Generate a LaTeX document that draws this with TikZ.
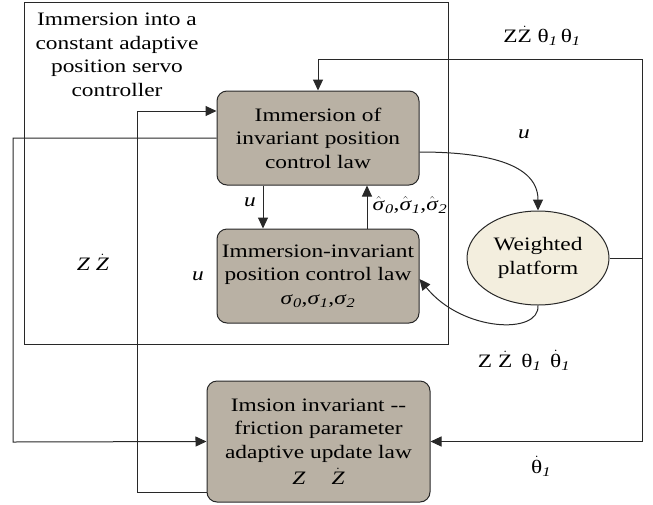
\documentclass[tikz,border=0pt]{standalone}
\usepackage{fontspec}
\setmainfont[FakeStretch=1.23]{Liberation Serif}
\usetikzlibrary{arrows.meta, positioning, shapes.geometric, calc}

\definecolor{boxfill}{RGB}{185,177,164}
\definecolor{platfill}{RGB}{243,238,222}
\definecolor{linegray}{RGB}{40,40,40}

\newcommand{\dotover}[1]{$\dot{\hbox{#1}}$}
\newcommand{\hatover}[1]{$\hat{\hbox{#1}}$}
\newcommand{\one}{\textsubscript{\textit{1}}}

\begin{document}
\begin{tikzpicture}[
    x=1pt, y=-1pt,
    every node/.style={font=\fontsize{19}{23.5}\selectfont, text=black},
    lawbox/.style={
        rectangle,
        rounded corners=10pt,
        draw=linegray,
        line width=1pt,
        fill=boxfill,
        align=center,
        inner sep=4pt,
        minimum width=202pt,
        minimum height=94pt
    },
    platbox/.style={
        ellipse,
        draw=linegray,
        line width=1pt,
        fill=platfill,
        align=center,
        inner sep=0pt,
        minimum width=142pt,
        minimum height=94pt
    },
    arrow/.style={
        line width=1pt,
        -{Triangle[length=11pt, width=10pt]},
        draw=linegray
    },
    lbl/.style={inner sep=1pt}
]
\useasboundingbox (0,0) rectangle (653,504);

% Outer servo frame
\draw[linegray, line width=1pt] (24,2) rectangle (448,344);
\node[align=center, lbl] (title) at (117,55) {
    Immersion into a\\
    constant adaptive\\
    position servo\\
    controller
};

% Main blocks
\node[lawbox] (imm) at (318,138) {
    Immersion of\\
    invariant position\\
    control law
};
\node[lawbox, below=43pt of imm] (ctl) {
    Immersion-invariant\\
    position control law\\
    \textit{σ}\textsubscript{\textit{0}},\textit{σ}\textsubscript{\textit{1}},\textit{σ}\textsubscript{\textit{2}}
};
\node[lawbox, minimum width=223pt, minimum height=121pt] (upd) at (318.5,441.5) {
    Imsion invariant -{}-\\
    friction parameter\\
    adaptive update law\\[3pt]
    \textit{Z}\hspace{26pt}\dotover{\textit{Z}}
};
\node[platbox] (plat) at (538,258) {Weighted\\platform};

% Corner points of the feedback lines
\coordinate (fbtop) at (642,59);
\coordinate (lft) at (13,442);
\coordinate (inl) at (137,111);

% Connectors between the blocks
\draw[arrow] ([xshift=-55pt]imm.south) -- ([xshift=-55pt]ctl.north);
\draw[arrow] ([xshift=49pt]ctl.north) -- ([xshift=49pt]imm.south);
\draw[arrow] ([yshift=-14pt]imm.east) to[out=0, in=90] (plat.north);
\draw[arrow] (plat.south) .. controls (540,335) and (462,332) .. ([yshift=-3pt]ctl.east);

% Feedback lines
\draw[arrow] (plat.east) -| (fbtop) -| (imm.north);
\draw[arrow] (fbtop |- plat.east) |- (upd.east);
\draw[arrow] (imm.west) -| (lft) -- (upd.west);
\draw[arrow] ([yshift=-51pt]upd.west) -| (inl) -- ([yshift=27pt]imm.west);

% Signal labels
\node[lbl] (ua) at (250,202) {\textit{u}};
\node[lbl] (ub) at (198,276) {\textit{u}};
\node[lbl] (uc) at (524,134) {\textit{u}};
\node[lbl] (sighat) at (410,205) {\hatover{\textit{σ}}\textsubscript{\textit{0}},\hatover{\textit{σ}}\textsubscript{\textit{1}},\hatover{\textit{σ}}\textsubscript{\textit{2}}};
\node[lbl] (zz) at (93,262) {\textit{Z} \dotover{\textit{Z}}};
\node[lbl] (sigtop) at (542,36) {Z\dotover{Z} θ\one\,θ\one};
\node[lbl] (sigmid) at (524,360) {Z \dotover{Z}\, θ\one\, \dotover{θ}\one};
\node[lbl] (sigbot) at (541,466) {\dotover{θ}\one};

\end{tikzpicture}
\end{document}
